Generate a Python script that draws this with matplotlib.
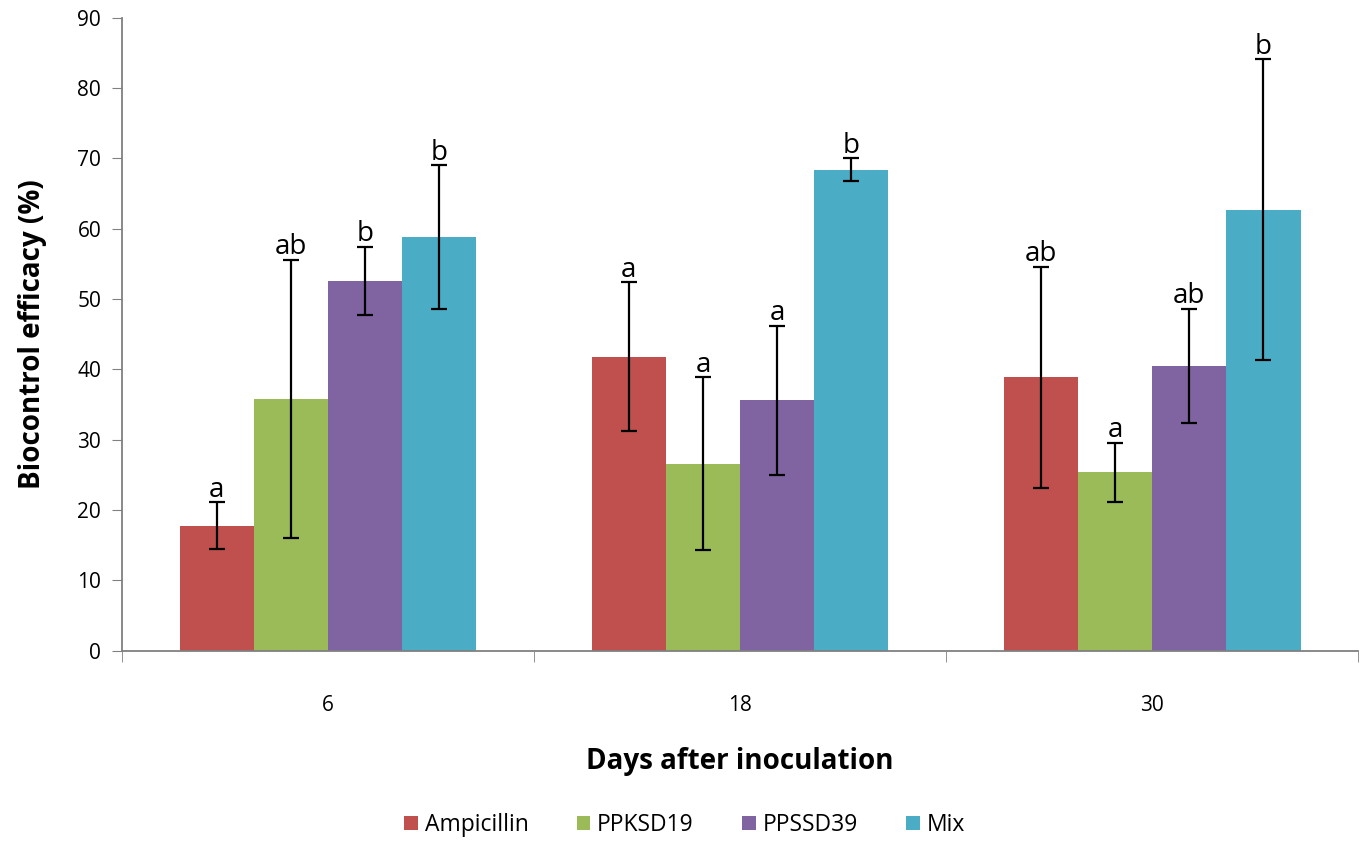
import matplotlib
matplotlib.use("Agg")
import matplotlib.pyplot as plt
import numpy as np

days = ["6", "18", "30"]
treatments = ["Ampicillin", "PPKSD19", "PPSSD39", "Mix"]
colors = ["#C0504D", "#9BBB59", "#8064A2", "#4BACC6"]

# mean efficacy (%) per treatment, one value per day
ampicillin = [17.8, 41.8, 38.9]
ppksd19 = [35.8, 26.6, 25.4]
ppssd39 = [52.6, 35.6, 40.5]
mix = [58.8, 68.4, 62.7]

ampicillin_err = [3.3, 10.6, 15.7]
ppksd19_err = [19.8, 12.3, 4.2]
ppssd39_err = [4.8, 10.6, 8.1]
mix_err = [10.2, 1.6, 21.4]

ampicillin_lab = ["a", "a", "ab"]
ppksd19_lab = ["ab", "a", "a"]
ppssd39_lab = ["b", "a", "ab"]
mix_lab = ["b", "b", "b"]

means = [ampicillin, ppksd19, ppssd39, mix]
errs = [ampicillin_err, ppksd19_err, ppssd39_err, mix_err]
labels = [ampicillin_lab, ppksd19_lab, ppssd39_lab, mix_lab]

plt.rcParams['font.family'] = ['Open Sans', 'DejaVu Sans']

fig = plt.figure(figsize=(13.63, 8.43), dpi=100)
ax = fig.add_axes([0.0895, 0.228, 0.907, 0.751])

x = np.arange(len(days))
w = 0.18
for i, (m, e, lab) in enumerate(zip(means, errs, labels)):
    pos = x + (i - 1.5) * w
    ax.bar(pos, m, w, color=colors[i], label=treatments[i])
    ax.errorbar(pos, m, yerr=e, fmt='none', ecolor='black', elinewidth=1.6,
                capsize=6, capthick=1.6)
    for p, mm, ee, t in zip(pos, m, e, lab):
        ax.text(p, mm + ee - 0.2, t, ha='center', va='bottom', fontsize=20)

ax.set_xlim(-0.5, 2.5)
ax.set_ylim(0, 90)
ax.set_yticks(np.arange(0, 91, 10))
ax.set_xticks(x)
ax.set_xticklabels(days, fontsize=15)
ax.set_xticks([-0.5, 0.5, 1.5, 2.5], minor=True)
ax.tick_params(axis='x', which='major', length=0, pad=32)
ax.tick_params(axis='x', which='minor', length=8, color='#808080')
ax.tick_params(axis='y', length=7, color='#808080', labelsize=15, pad=8)
for s in ['top', 'right']:
    ax.spines[s].set_visible(False)
for s in ['left', 'bottom']:
    ax.spines[s].set_color('#808080')
    ax.spines[s].set_linewidth(1.3)

ax.set_ylabel("Biocontrol efficacy (%)", fontsize=20, fontweight='bold', labelpad=22)
ax.set_xlabel("Days after inoculation", fontsize=20, fontweight='bold', labelpad=22)

ax.legend(loc='upper center', bbox_to_anchor=(0.455, -0.231), ncol=4, frameon=False,
          fontsize=16.5, handlelength=0.6, handleheight=0.6, columnspacing=2.1,
          handletextpad=0.3, borderpad=0.2)

fig.savefig("out.png", dpi=100)
